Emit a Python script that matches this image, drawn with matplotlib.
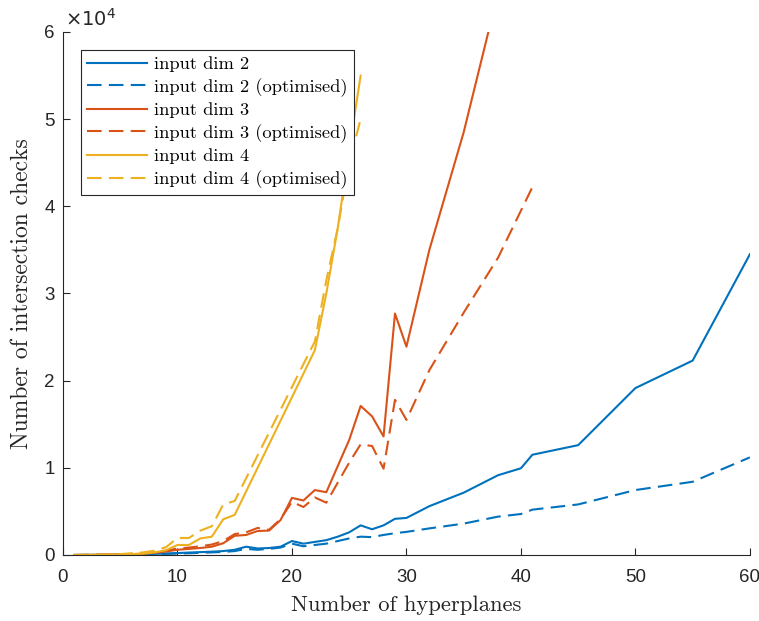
import matplotlib
matplotlib.use("Agg")
import matplotlib.pyplot as plt
from matplotlib.ticker import FuncFormatter

# hyperplane counts
x_dim2 = list(range(1, 31)) + [32, 35, 38, 40, 41, 45, 50, 55, 60]
x_dim3 = list(range(1, 31)) + [32, 35, 38]
x_dim3_opt = list(range(1, 31)) + [32, 35, 38, 40, 41]
x_dim4 = list(range(1, 16)) + [22, 23, 24, 25, 26]

# intersection checks (thousands)
dim2 = [0.0, 0.01, 0.02, 0.03, 0.05, 0.07, 0.1, 0.13, 0.17, 0.22,
        0.28, 0.33, 0.38, 0.45, 0.6, 0.95, 0.75, 0.8, 0.95, 1.6,
        1.3, 1.5, 1.7, 2.1, 2.6, 3.4, 2.95, 3.4, 4.15, 4.25,
        5.6, 7.15, 9.15, 9.95, 11.5, 12.6, 19.15, 22.3, 34.5]
dim2_opt = [0.0, 0.01, 0.02, 0.03, 0.04, 0.06, 0.08, 0.1, 0.13, 0.17,
            0.2, 0.25, 0.3, 0.35, 0.45, 0.7, 0.6, 0.7, 0.85, 1.3,
            1.0, 1.15, 1.3, 1.6, 1.9, 2.1, 2.05, 2.3, 2.5, 2.65,
            3.05, 3.6, 4.4, 4.7, 5.2, 5.8, 7.45, 8.4, 11.2]
dim3 = [0.0, 0.01, 0.02, 0.04, 0.06, 0.1, 0.15, 0.25, 0.4, 0.6,
        0.7, 0.8, 0.95, 1.35, 2.2, 2.3, 2.75, 2.8, 4.0, 6.55,
        6.25, 7.45, 7.2, 10.2, 13.2, 17.1, 15.9, 13.6, 27.7, 23.9,
        35.0, 48.5, 64.5]
dim3_opt = [0.0, 0.01, 0.02, 0.04, 0.07, 0.12, 0.2, 0.3, 0.5, 0.75,
            0.85, 1.0, 1.2, 1.6, 2.4, 2.6, 3.1, 2.9, 4.1, 6.1,
            5.5, 6.6, 6.0, 8.3, 10.6, 12.7, 12.5, 9.9, 17.8, 15.5,
            21.2, 27.8, 34.1, 39.5, 42.2]
dim4 = [0.0, 0.01, 0.02, 0.04, 0.07, 0.1, 0.15, 0.3, 0.55, 1.15,
        1.15, 1.9, 2.1, 4.1, 4.6, 23.5, 30.0, 37.5, 46.5, 55.0]
dim4_opt = [0.0, 0.02, 0.04, 0.07, 0.1, 0.2, 0.3, 0.5, 0.9, 1.95,
            1.95, 2.8, 3.3, 5.8, 6.2, 24.5, 31.5, 37.5, 45.0, 50.0]

labels = ["input dim 2", "input dim 2 (optimised)",
          "input dim 3", "input dim 3 (optimised)",
          "input dim 4", "input dim 4 (optimised)"]

blue, red, yellow = "#0072BD", "#D95319", "#EDB120"
axis_grey = "#262626"
dash = (7, 3.5)

fig = plt.figure(figsize=(7.59, 6.21), dpi=100)
ax = fig.add_axes([0.083, 0.1063, 0.905, 0.8422])

series = [
    (x_dim2, dim2, blue, False),
    (x_dim2, dim2_opt, blue, True),
    (x_dim3, dim3, red, False),
    (x_dim3_opt, dim3_opt, red, True),
    (x_dim4, dim4, yellow, False),
    (x_dim4, dim4_opt, yellow, True),
]
for (xs, ys, col, dashed), lab in zip(series, labels):
    line, = ax.plot(xs, [v * 1000 for v in ys], color=col, lw=1.5, label=lab)
    if dashed:
        line.set_dashes(dash)

ax.set_xlim(0, 60)
ax.set_ylim(0, 60000)
ax.set_xticks(range(0, 61, 10))
ax.set_yticks(range(0, 60001, 10000))
ax.yaxis.set_major_formatter(FuncFormatter(lambda v, p: f"{v / 1e4:g}"))

for side in ["top", "right"]:
    ax.spines[side].set_visible(False)
for side in ["left", "bottom"]:
    ax.spines[side].set_color(axis_grey)
    ax.spines[side].set_linewidth(0.8)
ax.tick_params(direction="in", length=5.2, width=0.8, color=axis_grey,
               labelcolor=axis_grey)
ax.tick_params(axis="x", pad=10)
ax.tick_params(axis="y", pad=6)
for lbl in ax.get_xticklabels() + ax.get_yticklabels():
    lbl.set_fontfamily("Liberation Sans")
    lbl.set_fontsize(13.5)

ax.text(0.003, 1.004, r"$\times 10^4$", transform=ax.transAxes,
        fontsize=14, color=axis_grey, ha="left", va="bottom",
        family="Liberation Sans", math_fontfamily="dejavusans")

ax.set_xlabel("Number of hyperplanes", family="cmr10", fontsize=16.3,
              color=axis_grey, labelpad=7)
ax.set_ylabel("Number of intersection checks", family="cmr10", fontsize=17,
              color=axis_grey, labelpad=8)

leg = ax.legend(loc="upper left", bbox_to_anchor=(0.026, 0.9656),
                borderaxespad=0, frameon=True, fancybox=False,
                prop={"family": "cmr10", "size": 13.3},
                handlelength=3.25, handletextpad=0.38, labelspacing=0.31,
                borderpad=0.35)
leg.get_frame().set_edgecolor(axis_grey)
leg.get_frame().set_linewidth(0.8)
leg.get_frame().set_alpha(1)

fig.savefig("out.png", dpi=100)
